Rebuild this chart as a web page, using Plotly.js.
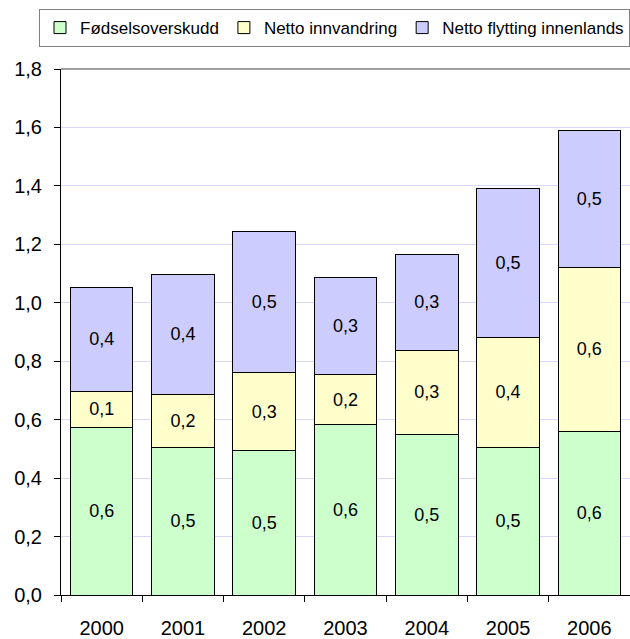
<!DOCTYPE html>
<html>
<head>
<meta charset="utf-8">
<script src="https://cdn.plot.ly/plotly-3.0.1.min.js"></script>
<style>
html,body{margin:0;padding:0;background:#fff;}
#chart{width:630px;height:639px;}
</style>
</head>
<body>
<div id="chart"></div>
<script>
const years = ['2000','2001','2002','2003','2004','2005','2006'];
const seriesNames = ['Fødselsoverskudd','Netto innvandring','Netto flytting innenlands'];
const fodsel = [0.573, 0.505, 0.493, 0.582, 0.548, 0.504, 0.559];
const innvandring = [0.125, 0.180, 0.268, 0.171, 0.290, 0.378, 0.563];
const innenlands = [0.356, 0.413, 0.484, 0.332, 0.328, 0.510, 0.468];
const colors = ['#CCFFCC', '#FFFFCC', '#CCCCFF'];

const FONT = 'Liberation Sans, Arial, sans-serif';
const values = [fodsel, innvandring, innenlands];

const traces = values.map((v, i) => ({
  type: 'bar',
  name: seriesNames[i],
  x: years,
  y: v,
  marker: {color: colors[i], line: {color: '#000000', width: 1}},
  texttemplate: '%{y:.1f}',
  textposition: 'inside',
  insidetextanchor: 'middle',
  textangle: 0,
  constraintext: 'none',
  textfont: {family: FONT, size: 18, color: '#000000'},
  hoverinfo: 'skip'
}));

const layout = {
  width: 630,
  height: 639,
  margin: {l: 61, r: 0, t: 69, b: 44, pad: 0},
  paper_bgcolor: '#ffffff',
  plot_bgcolor: '#ffffff',
  separators: ', ',
  barmode: 'stack',
  bargap: 0.229,
  font: {family: FONT, color: '#000000'},
  showlegend: true,
  legend: {
    orientation: 'h',
    xref: 'paper', yref: 'paper',
    x: -0.0316, xanchor: 'left',
    y: 1.114, yanchor: 'top',
    bordercolor: '#808080', borderwidth: 1,
    bgcolor: '#ffffff',
    font: {family: FONT, size: 17, color: '#000000'},
    traceorder: 'normal',
    itemwidth: 30
  },
  xaxis: {
    type: 'category',
    showgrid: false,
    showline: true, linecolor: '#000000', linewidth: 1,
    ticks: 'outside', ticklen: 6, tickcolor: '#000000',
    tickson: 'boundaries',
    ticklabelstandoff: 15,
    tickfont: {family: FONT, size: 20, color: '#000000'},
    zeroline: false,
    fixedrange: true
  },
  yaxis: {
    range: [0, 1.8],
    dtick: 0.2, tick0: 0,
    tickformat: '.1f',
    showgrid: true, gridcolor: '#D8D8FF', gridwidth: 1,
    showline: true, linecolor: '#000000', linewidth: 1,
    ticks: 'outside', ticklen: 6, tickcolor: '#000000',
    ticklabelstandoff: 8,
    tickfont: {family: FONT, size: 20, color: '#000000'},
    zeroline: false,
    fixedrange: true
  },
  shapes: [{
    type: 'line', xref: 'paper', yref: 'paper',
    x0: 0, x1: 1, y0: 1, y1: 1,
    line: {color: '#808080', width: 1.5}
  }]
};

Plotly.newPlot('chart', traces, layout, {displayModeBar: false, staticPlot: true});
</script>
</body>
</html>
